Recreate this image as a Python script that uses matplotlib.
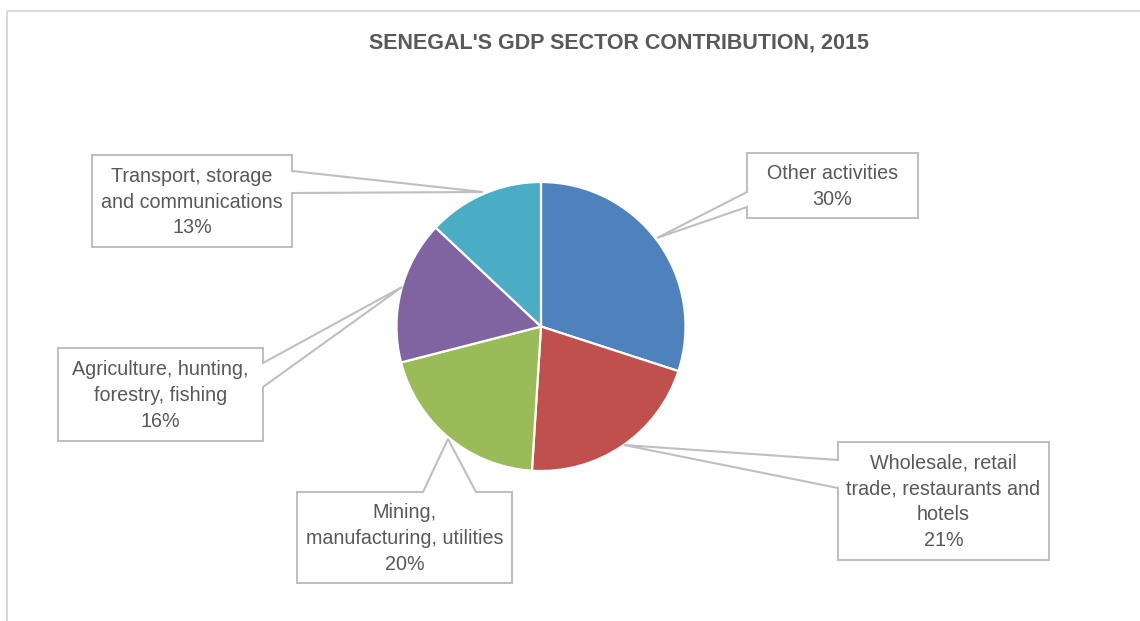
import matplotlib.pyplot as plt
from matplotlib.patches import Polygon

plt.rcParams['font.family'] = ['Liberation Sans', 'DejaVu Sans']

title = "SENEGAL'S GDP SECTOR CONTRIBUTION, 2015"
sectors = ["Other activities",
           "Wholesale, retail\ntrade, restaurants and\nhotels",
           "Mining,\nmanufacturing, utilities",
           "Agriculture, hunting,\nforestry, fishing",
           "Transport, storage\nand communications"]
shares = [30, 21, 20, 16, 13]
colors = ["#4F81BD", "#C0504D", "#9BBB59", "#8064A2", "#4BACC6"]

W, H = 1140, 621
fig = plt.figure(figsize=(W / 100, H / 100), dpi=100)
ax = fig.add_axes([0, 0, 1, 1])

# outer chart frame (only top and left edges visible)
ax.plot([7, W], [11, 11], color="#d9d9d9", lw=1.5, solid_capstyle="butt")
ax.plot([7, 7], [11, H], color="#d9d9d9", lw=1.5, solid_capstyle="butt")

# y axis is inverted below, so counterclockwise in data = clockwise on screen
cx, cy, r = 541, 326.5, 144.5
ax.pie(shares, colors=colors, center=(cx, cy), radius=r, startangle=270,
       counterclock=True, frame=True,
       wedgeprops=dict(edgecolor="white", linewidth=1.6))
ax.set_xlim(0, W)
ax.set_ylim(H, 0)
ax.set_aspect("equal")
ax.axis("off")

ax.text(619, 43, title, ha="center", va="center", fontsize=15.5,
        fontweight="bold", color="#595959")

# callout boxes: (x0, y0, x1, y1), side of pointer, attach a, b, tip
boxes = [
    ((747, 153, 918, 218), "left", 192, 207, (657, 238)),
    ((838, 442, 1049, 560), "left", 460, 488, (624, 445)),
    ((297, 492, 512, 583), "top", 423, 476, (448, 439)),
    ((58, 348, 263, 441), "right", 363, 387, (402, 287)),
    ((92, 155, 292, 247), "right", 171, 193, (483, 192)),
]


def callout_path(box, side, a, b, tip):
    x0, y0, x1, y1 = box
    if side == "left":
        return [(x0, y0), (x1, y0), (x1, y1), (x0, y1), (x0, b), tip, (x0, a)]
    if side == "right":
        return [(x0, y0), (x1, y0), (x1, a), tip, (x1, b), (x1, y1), (x0, y1)]
    return [(x0, y0), (a, y0), tip, (b, y0), (x1, y0), (x1, y1), (x0, y1)]


for name, val, (box, side, a, b, tip) in zip(sectors, shares, boxes):
    ax.add_patch(Polygon(callout_path(box, side, a, b, tip), closed=True,
                         facecolor="white", edgecolor="#bfbfbf", lw=1.5,
                         joinstyle="miter", zorder=3))
    ax.text((box[0] + box[2]) / 2, (box[1] + box[3]) / 2 + 1,
            f"{name}\n{val}%", ha="center", va="center", fontsize=14.2,
            color="#595959", linespacing=1.45, zorder=4)

fig.savefig("out.png", dpi=100)
